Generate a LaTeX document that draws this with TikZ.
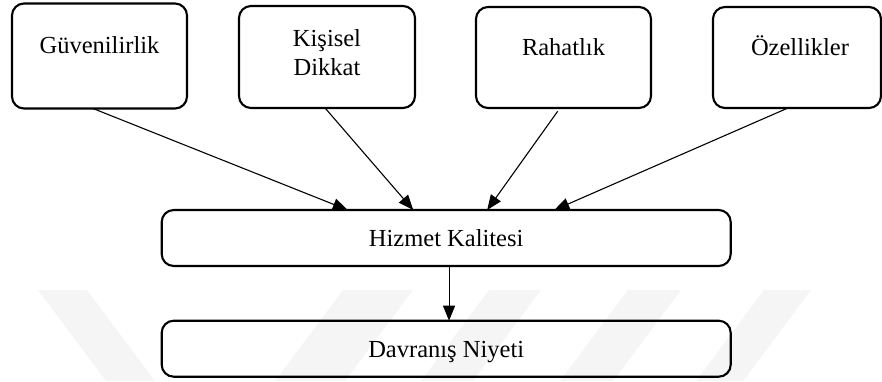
\documentclass[tikz,border=0pt]{standalone}
\usepackage{fontspec}
\setmainfont{Liberation Serif}
\usetikzlibrary{arrows.meta,calc}
\begin{document}
\begin{tikzpicture}[x=1pt,y=-1pt,
  box/.style={draw, line width=2.1pt, rounded corners=12pt, inner sep=0pt, outer sep=0pt},
  wide/.style={box, minimum width=569pt, minimum height=56pt,
    font=\fontsize{24.5}{29}\selectfont, text height=17pt, text depth=0pt},
  lbl/.style={font=\fontsize{24.5}{29}\selectfont, inner sep=0pt, align=center},
  link/.style={line width=1.1pt, -{Triangle[length=15pt,width=12pt]}},
  band/.style={fill=black!4, draw=none}]
\useasboundingbox (0,0) rectangle (882,381);

% faint diagonal bands in the background
\fill[band] (38,290) -- (87,290) -- (155,381) -- (106,381) -- cycle;
\fill[band] (343,290) -- (413,290) -- (345,381) -- (275,381) -- cycle;
\fill[band] (489,290) -- (541,290) -- (473,381) -- (421,381) -- cycle;
\fill[band] (628,290) -- (681,290) -- (613,381) -- (560,381) -- cycle;
\fill[band] (764,290) -- (811,290) -- (743,381) -- (696,381) -- cycle;

% dimension boxes
\node[box, minimum width=175pt, minimum height=105pt] (rel) at (99.5,56) {};
\node[box, minimum width=176pt, minimum height=102pt] (att) at (327,57) {};
\node[box, minimum width=175pt, minimum height=101pt] (com) at (563.5,57.5) {};
\node[box, minimum width=168pt, minimum height=101pt] (fea) at (797,57.5) {};

\node[lbl, anchor=base] (relT) at (99.5,53.3) {Güvenilirlik};
\node[lbl, anchor=base] (attT) at (327,75) {Kişisel\\Dikkat};
\node[lbl, anchor=base] (comT) at (563.5,55) {Rahatlık};
\node[lbl, anchor=base] (feaT) at (800,55) {Özellikler};

% outcome boxes
\node[wide] (sq) at (446.2,238) {Hizmet Kalitesi};
\node[wide] (bi) at (446.2,348.7) {Davranış Niyeti};

% connectors
\draw[link] ($(rel.south west)!0.463!(rel.south east)$) -- ($(sq.north west)!0.327!(sq.north east)$);
\draw[link] ($(att.south west)!0.489!(att.south east)$) -- ($(sq.north west)!0.442!(sq.north east)$);
\draw[link, shorten <=4pt] ($(com.south west)!0.48!(com.south east)$) -- ($(sq.north west)!0.572!(sq.north east)$);
\draw[link] ($(fea.south west)!0.446!(fea.south east)$) -- ($(sq.north west)!0.69!(sq.north east)$);
\draw[link] ($(sq.south west)!0.505!(sq.south east)$) -- ($(bi.north west)!0.505!(bi.north east)$);
\end{tikzpicture}
\end{document}
